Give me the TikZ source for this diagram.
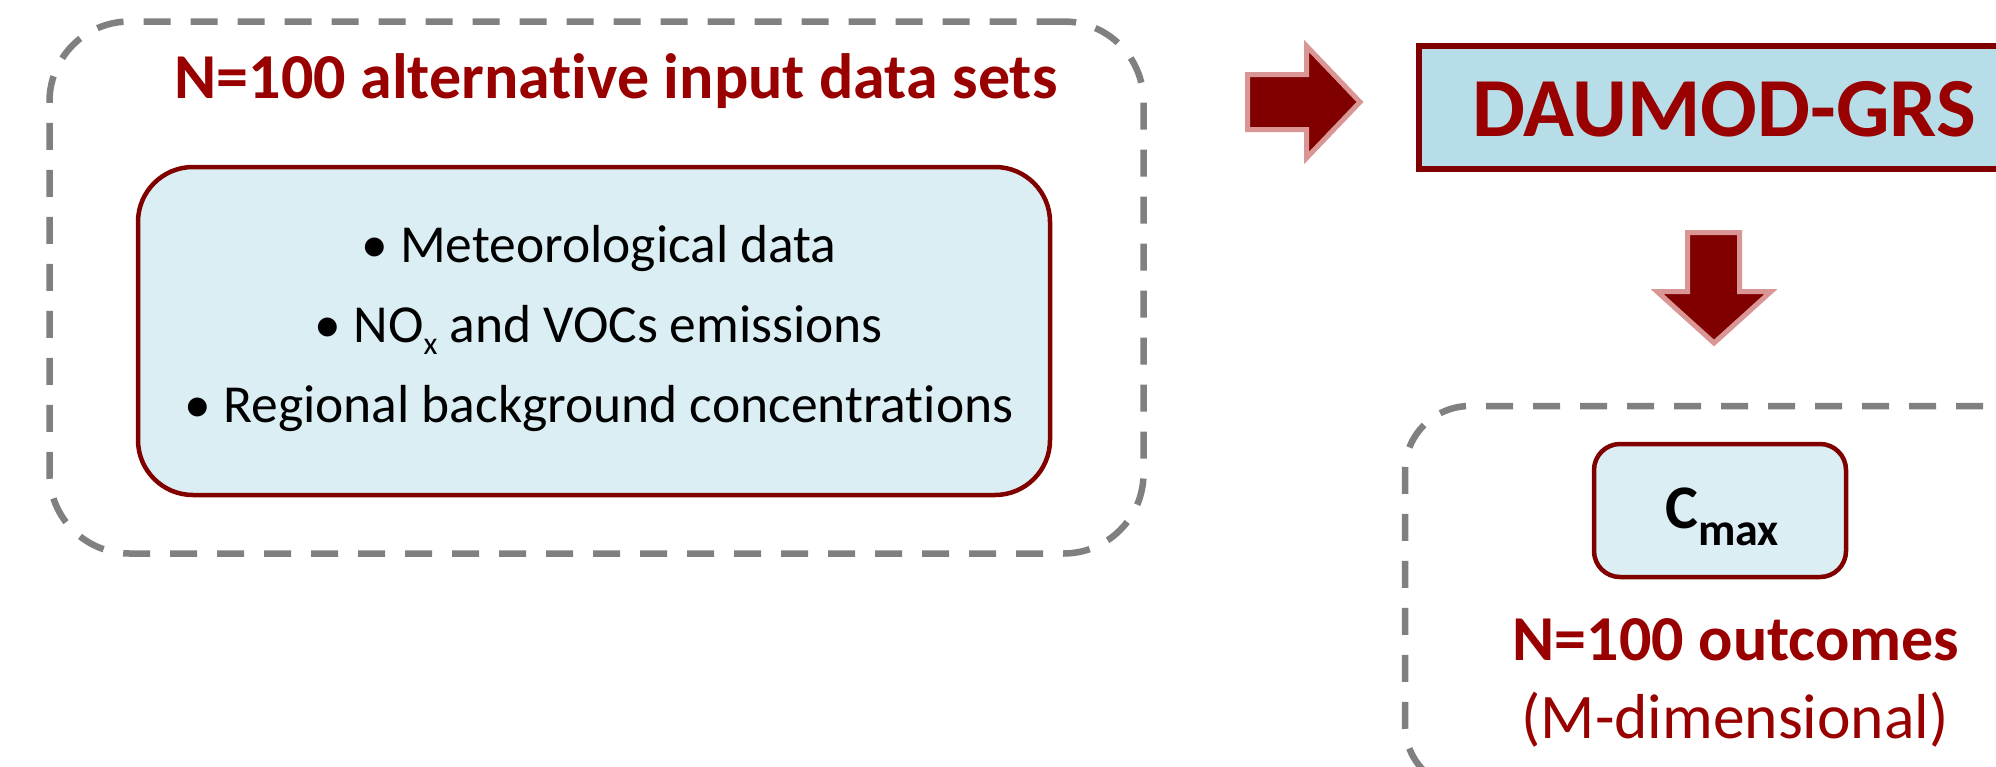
\documentclass[tikz,border=0pt]{standalone}
\usepackage{fontspec}
\setmainfont{Carlito}[Ligatures={NoCommon,NoRare,NoContextual}]
\definecolor{dgray}{HTML}{808080}
\definecolor{bred}{HTML}{800000}
\definecolor{tred}{HTML}{990000}
\definecolor{lblue}{HTML}{DBEEF4}
\definecolor{mblue}{HTML}{B7DDE8}
\definecolor{pinkline}{HTML}{D99694}
\tikzset{
  dashbox/.style={draw=dgray, line width=6.5pt, dash pattern=on 27pt off 20pt, rounded corners=80pt, inner sep=0pt},
  bluebox/.style={draw=bred, fill=lblue, line width=4.5pt, inner sep=0pt},
  modelbox/.style={draw=bred, fill=mblue, line width=6pt, inner sep=0pt},
  blockarrow/.style={draw=pinkline, fill=bred, line width=5pt, line join=miter},
  titletext/.style={text=tred, font=\fontsize{64}{76}\selectfont\bfseries, inner sep=0pt},
  itemtext/.style={text=black, font=\fontsize{53.5}{64}\selectfont, inner sep=0pt},
}
\begin{document}
\begin{tikzpicture}[x=1pt,y=-1pt]
\clip (0,0) rectangle (1996,766);
\fill[white] (0,0) rectangle (1996,766);
% left group
\node[dashbox, minimum width=1094pt, minimum height=532pt] (inputs) at (596.5,287.5) {};
\node[titletext, anchor=base] (title) at (616,98) {N=100 alternative input data sets};
\node[bluebox, rounded corners=55pt, minimum width=912pt, minimum height=328pt] (inner) at (594,331) {};
\node[itemtext, anchor=base] (it1) at (599,262) {\textbullet\ Meteorological data};
\node[itemtext, anchor=base] (it2) at (599,342) {\textbullet\ NO{\fontsize{32}{32}\selectfont\raisebox{-12pt}{x}} and VOCs emissions};
\node[itemtext, anchor=base] (it3) at (599,422) {\textbullet\ Regional background concentrations};
% right arrow
\draw[blockarrow] (1247.5,74.5) -- (1306.5,74.5) -- (1306.5,46) -- (1360,102) -- (1306.5,158) -- (1306.5,129.5) -- (1247.5,129.5) -- cycle;
% model box
\node[modelbox, minimum width=612pt, minimum height=123pt] (model) at (1725,107.5) {};
\node[titletext, font=\fontsize{84}{96}\selectfont\bfseries, anchor=base] (modeltext) at (1724,136) {DAUMOD-GRS};
% down arrow
\draw[blockarrow] (1687.5,232.5) -- (1739.5,232.5) -- (1739.5,291.5) -- (1771,291.5) -- (1714,343) -- (1657,291.5) -- (1687.5,291.5) -- cycle;
% outcome group
\node[dashbox, rounded corners=65pt, minimum width=690pt, minimum height=384pt] (outputs) at (1750,598) {};
\node[bluebox, rounded corners=26pt, minimum width=252pt, minimum height=133pt] (cmax) at (1720,510.5) {};
\node[text=black, font=\fontsize{62}{74}\selectfont\bfseries, inner sep=0pt, anchor=base] (cmaxtext) at (1722,528) {C{\fontsize{46}{46}\selectfont\raisebox{-17pt}{max}}};
\node[titletext, anchor=base] (outtitle) at (1736,660) {N=100 outcomes};
\node[titletext, font=\fontsize{63.5}{76}\selectfont, anchor=base] (outsub) at (1735,738) {(M-dimensional)};
\end{tikzpicture}
\end{document}
